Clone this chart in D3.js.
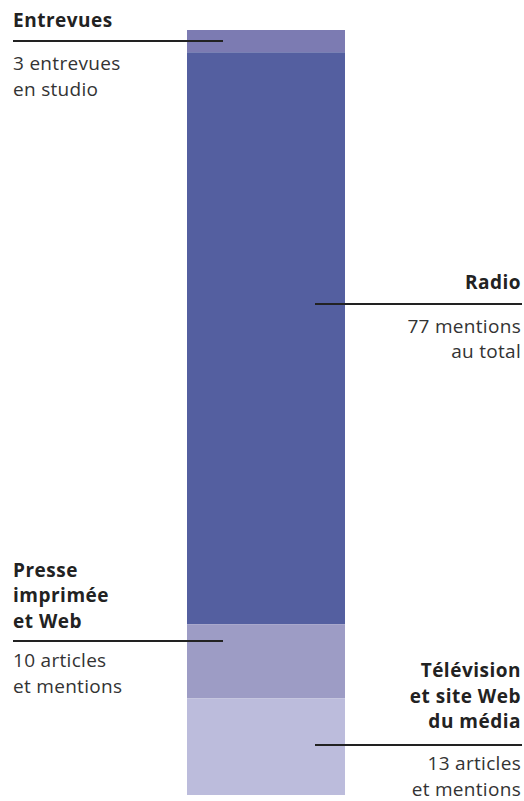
<!DOCTYPE html>
<html><head><meta charset="utf-8">
<script src="https://cdn.jsdelivr.net/npm/d3@7"></script>
<style>
html,body{margin:0;padding:0;background:#fff;}
svg{display:block;font-family:"Open Sans","Noto Sans",sans-serif;}
</style></head>
<body>
<svg id="chart" width="524" height="801"></svg>
<script>
// Data
const categories = ["Entrevues", "Radio", "Presse imprimée et Web", "Télévision et site Web du média"];
const values = [3, 77, 10, 13];
const titles = [["Entrevues"], ["Radio"], ["Presse", "imprimée", "et Web"], ["Télévision", "et site Web", "du média"]];
const notes = [["3 entrevues", "en studio"], ["77 mentions", "au total"], ["10 articles", "et mentions"], ["13 articles", "et mentions"]];
const sides = ["left", "right", "left", "right"];
const colors = ["#7c7bb2", "#545fa0", "#9d9cc5", "#bcbcdc"];

// Layout
const barX0 = 187, barX1 = 345;
const barTop = 30, barBottom = 795;
const anchorFrac = [0.5, 0.44, 0.227, 0.482];
const titleGap = [14.5, 15.5, 13.5, 17];
const noteGap = [29, 28.5, 26, 25];
const lineH = 25.5, fs = 19;

const total = d3.sum(values);
const y = d3.scaleLinear().domain([0, total]).range([barTop, barBottom]);
const x = d3.scaleBand().domain(["couverture"]).range([barX0, barX1]).padding(0);

const starts = [];
values.reduce((acc, v, i) => { starts[i] = acc; return acc + v; }, 0);
const data = categories.map((c, i) => ({c, v: values[i], s: starts[i], i}));

const svg = d3.select("#chart");

svg.append("g").selectAll("rect").data(data).join("rect")
  .attr("x", x("couverture"))
  .attr("width", x.bandwidth())
  .attr("y", d => y(d.s))
  .attr("height", d => y(d.s + d.v) - y(d.s))
  .attr("fill", (d, i) => colors[i]);

const ann = svg.append("g");
data.forEach((d, i) => {
  const ly = Math.round(y(d.s + d.v * anchorFrac[i]));
  const left = sides[i] === "left";
  const x0 = left ? 13 : 315, x1 = left ? 223 : 522;
  const tx = left ? 13 : 521;
  const anchor = left ? "start" : "end";
  ann.append("line").attr("x1", x0).attr("x2", x1).attr("y1", ly).attr("y2", ly)
    .attr("stroke", "#222").attr("stroke-width", 2);
  const t = titles[i];
  t.forEach((s, k) => {
    ann.append("text").attr("x", tx).attr("y", ly - titleGap[i] - (t.length - 1 - k) * lineH)
      .attr("text-anchor", anchor).attr("font-size", fs).attr("font-weight", 700)
      .attr("letter-spacing", 0.5)
      .attr("fill", "#222").text(s);
  });
  notes[i].forEach((s, k) => {
    ann.append("text").attr("x", tx).attr("y", ly + noteGap[i] + k * lineH)
      .attr("text-anchor", anchor).attr("font-size", fs).attr("font-weight", 400)
      .attr("letter-spacing", 0.3)
      .attr("fill", "#333").text(s);
  });
});
</script>
</body></html>
